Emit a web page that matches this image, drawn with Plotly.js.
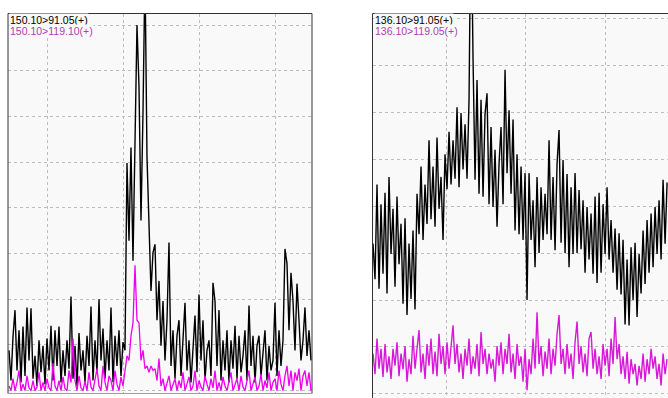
<!DOCTYPE html>
<html>
<head>
<meta charset="utf-8">
<script src="https://cdn.plot.ly/plotly-3.0.1.min.js"></script>
<style>
html,body{margin:0;padding:0;background:#fff;overflow:hidden;}
#chart{width:668px;height:398px;}
</style>
</head>
<body>
<div id="chart"></div>
<script>
// ---- Data (intensities in arbitrary units; 50 units per grid line) ----
const leftLabels = ["150.10>91.05(+)", "150.10>119.10(+)"];
const rightLabels = ["136.10>91.05(+)", "136.10>119.05(+)"];

const scanStartLeft = 0.7426, scanStepLeft = 0.01321;   // minutes
const scanStartRight = 0.5409, scanStepRight = 0.01258; // minutes

const left91 = [44,11,59,88,22,66,9,70,16,91,33,90,13,38,5,55,20,49,7,57,22,71,11,66,27,70,9,44,16,55,
24,103,13,49,5,63,22,44,9,60,27,92,11,55,20,100,33,68,13,55,22,91,9,60,27,66,16,53,44,249,
164,266,142,278,400,333,186,304,460,256,191,109,151,160,77,120,49,98,33,77,162,27,66,13,60,77,16,55,96,22,
55,9,49,82,20,105,33,77,11,44,55,16,118,98,27,88,11,55,22,66,9,55,24,71,13,60,20,38,66,11,
93,27,60,9,49,60,16,44,66,11,49,22,33,96,16,66,27,55,155,139,66,129,98,44,117,77,33,55,91,38,66,33];

const left119 = [5,0,13,0,9,22,0,7,0,16,3,0,11,0,4,20,0,9,0,13,3,0,30,5,0,11,0,15,2,0,
22,9,57,11,0,16,3,0,10,0,20,4,0,13,24,5,0,27,9,0,16,11,0,22,7,0,15,5,22,38,
33,60,74,137,77,74,33,44,24,27,20,27,22,24,11,35,5,13,0,9,16,0,7,13,0,11,3,20,0,9,
15,0,5,22,0,11,4,0,16,7,0,13,3,22,0,9,0,15,5,0,11,20,0,7,13,0,16,4,0,11,
22,0,9,15,0,5,18,0,11,3,20,0,9,13,0,22,7,0,16,27,5,22,0,20,11,24,0,16,22,5,20,0];

const right91 = [160,122,223,112,202,128,214,107,231,149,197,114,210,138,181,96,187,84,160,101,174,90,213,170,242,164,223,181,270,186,
242,178,273,197,231,164,255,218,279,223,270,229,305,220,299,239,287,229,313,532,357,228,334,213,313,210,298,320,202,284,
199,260,178,245,284,202,345,235,302,213,292,174,255,170,242,164,235,100,235,164,206,135,231,150,220,164,213,170,270,164,
231,153,245,281,161,249,150,234,135,220,149,235,150,217,154,206,129,199,143,192,128,210,118,214,129,202,149,220,143,185,
129,176,111,171,106,164,74,143,73,156,100,161,82,149,107,174,117,185,129,192,135,199,149,206,143,228,160,225];

const right119 = [43,21,59,27,48,18,53,23,40,16,48,30,55,19,43,26,51,13,37,21,62,27,48,68,23,43,16,53,30,59,
21,45,19,64,32,51,21,55,27,48,73,32,53,23,43,16,48,30,59,21,40,27,53,19,66,32,48,21,43,27,
37,13,51,30,55,21,48,32,64,23,43,16,53,30,40,13,48,4,37,21,59,27,87,32,51,19,45,27,59,21,
48,30,64,84,32,48,21,53,27,43,16,55,77,32,51,23,43,19,59,66,27,48,21,40,16,53,30,48,19,59,
32,82,37,53,21,40,16,45,11,37,21,32,9,30,16,43,13,37,21,48,27,40,16,32,9,43,21,37];

// ---- Build traces ----
function times(arr, start, step){ return arr.map((_, i) => start + i * step); }

const traces = [
  {x: times(left91, scanStartLeft, scanStepLeft), y: left91, xaxis:'x', yaxis:'y',
   type:'scatter', mode:'lines', line:{color:'#000000', width:1.4}, hoverinfo:'skip'},
  {x: times(left119, scanStartLeft, scanStepLeft), y: left119, xaxis:'x', yaxis:'y',
   type:'scatter', mode:'lines', line:{color:'#ee00ee', width:1.3}, hoverinfo:'skip'},
  {x: times(right91, scanStartRight, scanStepRight), y: right91, xaxis:'x2', yaxis:'y2',
   type:'scatter', mode:'lines', line:{color:'#000000', width:1.4}, hoverinfo:'skip'},
  {x: times(right119, scanStartRight, scanStepRight), y: right119, xaxis:'x2', yaxis:'y2',
   type:'scatter', mode:'lines', line:{color:'#d818d8', width:1.4}, hoverinfo:'skip'}
];

const W = 668, H = 398;
const gridStyle = {showgrid:true, gridcolor:'#bdbdbd', gridwidth:1, griddash:'3px,3px',
  zeroline:false, showticklabels:false, ticks:'', showline:false, fixedrange:true};

const layout = {
  width: W, height: H,
  margin:{l:0, r:0, t:0, b:0, pad:0},
  paper_bgcolor:'#ffffff',
  plot_bgcolor:'#f9f9f9',
  showlegend:false,
  xaxis: Object.assign({}, gridStyle, {domain:[8/W, 312/W], range:[0.736, 2.744], tickvals:[1.0,1.5,2.0,2.5], anchor:'y'}),
  yaxis: Object.assign({}, gridStyle, {domain:[(H-393.5)/H, (H-13.5)/H], range:[-3.2, 412.6], tickvals:[0,50,100,150,200,250,300,350,400], anchor:'x'}),
  xaxis2: Object.assign({}, gridStyle, {domain:[372.5/W, 1], range:[0.5377, 2.396], tickvals:[1.0,1.5,2.0], anchor:'y2'}),
  yaxis2: Object.assign({}, gridStyle, {domain:[0, (H-13.5)/H], range:[-4.3, 404.9], tickvals:[0,50,100,150,200,250,300,350,400], anchor:'x2'}),
  shapes: [
    {type:'line', xref:'x domain', yref:'y domain', x0:0, x1:0, y0:0, y1:1, line:{color:'#333333', width:1}},
    {type:'line', xref:'x domain', yref:'y domain', x0:0, x1:1, y0:1, y1:1, line:{color:'#333333', width:1}},
    {type:'line', xref:'x domain', yref:'y domain', x0:1, x1:1, y0:0, y1:1, line:{color:'#333333', width:1}},
    {type:'line', xref:'x domain', yref:'y domain', x0:0, x1:1, y0:0, y1:0, line:{color:'#a0a0a0', width:1}},
    {type:'line', xref:'x2 domain', yref:'y2 domain', x0:0, x1:0, y0:0, y1:1, line:{color:'#333333', width:1}},
    {type:'line', xref:'x2 domain', yref:'y2 domain', x0:0, x1:1, y0:1, y1:1, line:{color:'#333333', width:1}}
  ],
  annotations: [
    {xref:'x domain', yref:'y domain', x:0, y:1, xanchor:'left', yanchor:'top', xshift:1, yshift:0,
     text:leftLabels[0], showarrow:false, bgcolor:'#f9f9f9', borderpad:0,
     font:{family:'Liberation Sans, Arial, sans-serif', size:10.5, color:'#000000'}},
    {xref:'x domain', yref:'y domain', x:0, y:1, xanchor:'left', yanchor:'top', xshift:1, yshift:-11,
     text:leftLabels[1], showarrow:false, bgcolor:'#f9f9f9', borderpad:0,
     font:{family:'Liberation Sans, Arial, sans-serif', size:10.5, color:'#b040b0'}},
    {xref:'x2 domain', yref:'y2 domain', x:0, y:1, xanchor:'left', yanchor:'top', xshift:1, yshift:0,
     text:rightLabels[0], showarrow:false, bgcolor:'#f9f9f9', borderpad:0,
     font:{family:'Liberation Sans, Arial, sans-serif', size:10.5, color:'#000000'}},
    {xref:'x2 domain', yref:'y2 domain', x:0, y:1, xanchor:'left', yanchor:'top', xshift:1, yshift:-11,
     text:rightLabels[1], showarrow:false, bgcolor:'#f9f9f9', borderpad:0,
     font:{family:'Liberation Sans, Arial, sans-serif', size:10.5, color:'#b040b0'}}
  ]
};

Plotly.newPlot('chart', traces, layout, {staticPlot:true, displayModeBar:false});
</script>
</body>
</html>
